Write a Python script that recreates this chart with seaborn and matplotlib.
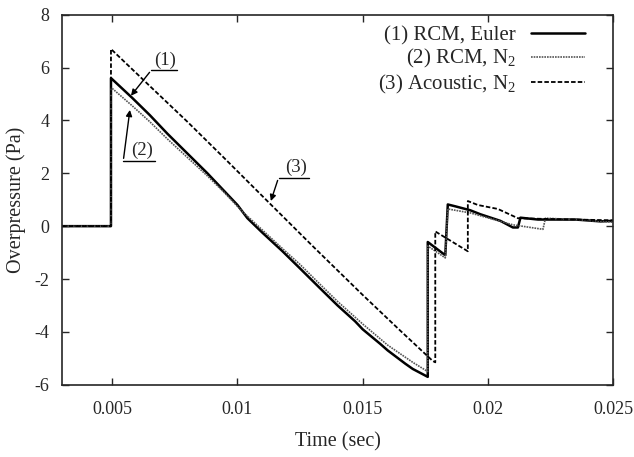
import numpy as np
import pandas as pd
import matplotlib
matplotlib.use("Agg")
import matplotlib.pyplot as plt
import seaborn as sns

# curve (1) RCM, Euler
t1 = [0.003, 0.00495, 0.00495, 0.0058, 0.0065, 0.0072, 0.008, 0.0088, 0.0095, 0.0100, 0.0102, 0.0104,
      0.011, 0.0118, 0.0125, 0.0133, 0.014, 0.0147, 0.015, 0.0157, 0.016, 0.0167, 0.017, 0.0176,
      0.0176, 0.0183, 0.0184, 0.0187, 0.0193, 0.0197, 0.0205, 0.0210, 0.0212, 0.0213, 0.022, 0.0235,
      0.0245, 0.025]
p1 = [0.0, 0.0, 5.6, 4.85, 4.2, 3.5, 2.75, 2.0, 1.3, 0.8, 0.55, 0.3,
      -0.25, -0.95, -1.6, -2.35, -3.0, -3.6, -3.9, -4.45, -4.7, -5.2, -5.4, -5.7,
      -0.6, -1.1, 0.82, 0.75, 0.6, 0.45, 0.2, -0.05, -0.05, 0.32, 0.25, 0.25,
      0.18, 0.2]

# curve (2) RCM, N2
t2 = [0.003, 0.00495, 0.00495, 0.0058, 0.0065, 0.0072, 0.008, 0.0088, 0.0095, 0.0102, 0.011,
      0.0118, 0.0125, 0.0133, 0.014, 0.015, 0.016, 0.017, 0.0176, 0.0176, 0.0183, 0.0184,
      0.0193, 0.021, 0.0222, 0.0223, 0.0235, 0.025]
p2 = [0.0, 0.0, 5.25, 4.55, 3.95, 3.3, 2.6, 1.9, 1.25, 0.55, -0.15,
      -0.85, -1.45, -2.2, -2.85, -3.7, -4.5, -5.15, -5.5, -0.75, -1.2, 0.65,
      0.5, 0.05, -0.12, 0.3, 0.25, 0.15]

# curve (3) Acoustic, N2
t3 = [0.003, 0.00495, 0.00495, 0.0065, 0.008, 0.0095, 0.0113, 0.013, 0.015, 0.0165,
      0.0178, 0.0179, 0.0179, 0.0192, 0.0192, 0.0196, 0.0204, 0.0212, 0.022, 0.0235, 0.025]
p3 = [0.0, 0.0, 6.7, 5.3, 3.95, 2.55, 0.85, -0.75, -2.6, -3.95,
      -5.1, -5.15, -0.2, -0.95, 0.95, 0.8, 0.65, 0.3, 0.28, 0.25, 0.22]

labels = ["(1) RCM, Euler", "(2) RCM, N$_2$", "(3) Acoustic, N$_2$"]

sns.set_style("ticks")
plt.rcParams["font.family"] = ["Liberation Serif", "DejaVu Serif"]
plt.rcParams["mathtext.fontset"] = "custom"
plt.rcParams["mathtext.rm"] = "Liberation Serif"
plt.rcParams["mathtext.it"] = "Liberation Serif:italic"
plt.rcParams["axes.unicode_minus"] = False

fig = plt.figure(figsize=(6.34, 4.57), dpi=100)
ax = fig.add_axes([0.098, 0.158, 0.869, 0.81])

sns.lineplot(x=t1, y=p1, sort=False, estimator=None, color="black", lw=1.8, ax=ax, label=labels[0])
sns.lineplot(x=t2, y=p2, sort=False, estimator=None, color="#555555", lw=1.2, ls=(0, (1, 0.6)), ax=ax, label=labels[1])
sns.lineplot(x=t3, y=p3, sort=False, estimator=None, color="black", lw=1.3, ls=(0, (2.5, 1.2)), ax=ax, label=labels[2])

ax.set_xlim(0.003, 0.025)
ax.set_ylim(-6, 8)
ax.set_xticks([0.005, 0.01, 0.015, 0.02, 0.025])
ax.set_xticklabels(["0.005", "0.01", "0.015", "0.02", "0.025"])
ax.set_yticks(range(-6, 9, 2))
ax.tick_params(direction="in", top=True, right=True, labelsize=13, length=5, width=1)
ax.tick_params(axis="x", pad=12)
ax.tick_params(axis="y", pad=9)
for s in ax.spines.values():
    s.set_linewidth(1.2)
ax.set_xlabel("Time (sec)", fontsize=14.5, labelpad=10)
ax.set_ylabel("Overpressure (Pa)", fontsize=14.5, labelpad=6)

ax.legend(loc="upper right", bbox_to_anchor=(0.949, 0.97), frameon=False, markerfirst=False,
          fontsize=15, borderpad=0, borderaxespad=0, labelspacing=0.1,
          handlelength=2.6, handletextpad=0.7)

# callouts
def callout(txt, tx, ty, x0, x1, yl, tip):
    ax.text(tx, ty, txt, fontsize=13.5, ha="center", va="bottom")
    ax.plot([x0, x1], [yl, yl], color="black", lw=1)
    ax.annotate("", xy=tip, xytext=(x0, yl),
                arrowprops=dict(arrowstyle="-|>", color="black", lw=1, mutation_scale=9))

callout("(1)", 0.0071, 5.95, 0.00656, 0.0076, 5.9, (0.00568, 4.85))
callout("(2)", 0.0062, 2.55, 0.00544, 0.00672, 2.46, (0.00572, 4.5))
callout("(3)", 0.01235, 1.9, 0.01164, 0.01284, 1.83, (0.0113, 0.85))

fig.savefig("out.png", dpi=100)
